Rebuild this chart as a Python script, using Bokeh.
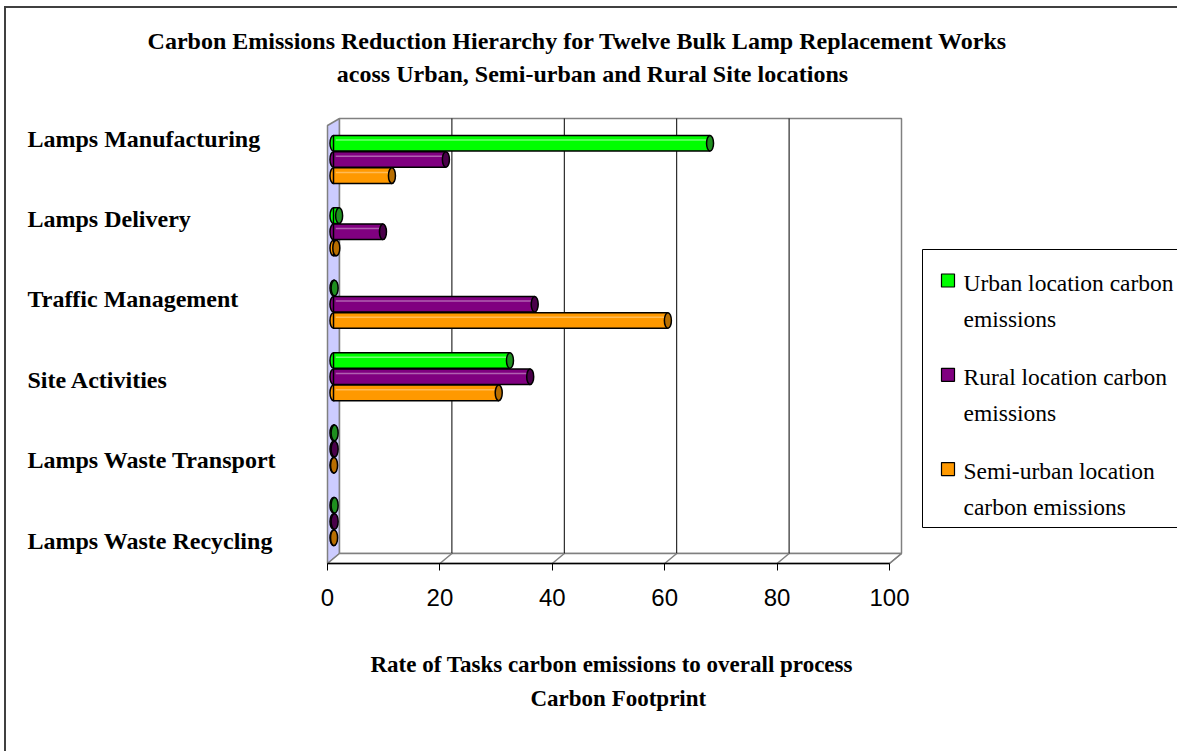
from bokeh.plotting import figure
from bokeh.models import Range1d, Label, ColumnDataSource, FixedTicker, Title
from bokeh.transform import dodge
from bokeh.embed import file_html
from bokeh.resources import INLINE

# ---------------- data ----------------
categories = ["Lamps Manufacturing", "Lamps Delivery", "Traffic Management",
              "Site Activities", "Lamps Waste Transport", "Lamps Waste Recycling"]
series_keys = ["Urban", "Rural", "Semi-urban"]
legend_lines = [["Urban location carbon", "emissions"],
                ["Rural location carbon", "emissions"],
                ["Semi-urban location", "carbon emissions"]]
urban = [67.0, 1.0, 0.2, 31.4, 0.2, 0.2]
rural = [20.0, 8.8, 35.8, 35.0, 0.2, 0.2]
semi_urban = [10.4, 0.5, 59.5, 29.4, 0.1, 0.1]
x_ticks = [0, 20, 40, 60, 80, 100]
title_lines = ["Carbon Emissions Reduction Hierarchy for Twelve  Bulk Lamp Replacement Works",
               "acoss Urban, Semi-urban and Rural Site locations"]
axis_title_lines = ["Rate of Tasks carbon emissions to overall process",
                    "Carbon Footprint"]

# ---------------- styles / layout ----------------
colors = ["#00ff00", "#800080", "#ff9900"]
highlights = ["#70ff70", "#b060b0", "#ffbb55"]
caps = ["#1f8f1f", "#4a004a", "#b86e00"]
SERIF = "Liberation Serif"
SANS = "Liberation Sans"

OX, OY = 6, 8                            # canvas origin on the page (margin + border)
W, H = 1173, 745
FB = 566                                 # frame bottom (page px)
FBc = FB - OY                            # frame bottom (canvas px)
X0 = 327                                 # page pixel of x = 0
PXU = 5.62                               # px per x data unit
DX_PX, DY_PX = 12, 10                    # 3-D depth offset
dxu = DX_PX / PXU

back_top = 118
back_floor = 553
front_floor = back_floor + DY_PX

# bar slots: 1 unit per bar, groups separated by a gap
n_series = len(series_keys)
GAP = 1.47
PITCH = n_series + GAP
n_groups = len(categories)
SLOT_PX = 16.2
y_lo = -45 / SLOT_PX
y_hi = y_lo + FBc / SLOT_PX


def slot(i, j):
    return (n_groups - 1 - i) * PITCH + (n_series - 1) / 2 - j


p = figure(width=W, height=H,
           x_range=Range1d(-(X0 - OX) / PXU, (W - (X0 - OX)) / PXU),
           y_range=Range1d(y_lo, y_hi),
           output_backend="svg", toolbar_location=None, y_axis_location=None,
           min_border_left=0, min_border_right=0, min_border_top=0,
           min_border_bottom=H - FBc,
           outline_line_color=None, background_fill_color="white",
           border_fill_color="white")
p.styles = {"margin-left": "4px", "margin-top": "6px",
            "border-left": "2px solid #404040", "border-top": "2px solid #404040"}
# page-pixel helper ranges (for decorations and free text)
p.extra_x_ranges = {"px": Range1d(OX, OX + W)}
p.extra_y_ranges = {"py": Range1d(FB, OY)}
p.grid.visible = False

# ---------------- 3-D walls ----------------
p.patch(x=[0, dxu, dxu, 0],
        y=[front_floor, back_floor, back_top, back_top + 7],
        y_range_name="py", fill_color="#ccccff", line_color="#808080", line_width=1.5)
p.quad(left=[dxu], right=[100 + dxu], top=[back_top], bottom=[back_floor],
       y_range_name="py", fill_color="white", line_color="#808080", line_width=1.5)
p.patch(x=[0, 100, 100 + dxu, dxu],
        y=[front_floor, front_floor, back_floor, back_floor],
        y_range_name="py", fill_color="white", line_color="#808080", line_width=1.5)
inner = x_ticks[1:-1]
p.segment(x0=[t + dxu for t in inner], x1=[t + dxu for t in inner],
          y0=[back_floor] * len(inner), y1=[back_top] * len(inner),
          y_range_name="py", line_color="black", line_width=1)
p.segment(x0=x_ticks[1:], x1=[t + dxu for t in x_ticks[1:]],
          y0=[front_floor] * 5, y1=[back_floor] * 5,
          y_range_name="py", line_color="#808080", line_width=1.5)
p.segment(x0=[0], x1=[100], y0=[front_floor], y1=[front_floor],
          y_range_name="py", line_color="black", line_width=1.5)

# ---------------- cylinders ----------------
for j, (key, vals) in enumerate(zip(series_keys, [urban, rural, semi_urban])):
    src = ColumnDataSource(dict(y=[slot(i, j) for i in range(n_groups)], v=vals))
    p.ellipse(x=dxu / 2, y="y", width=7, width_units="screen", height=0.96,
              fill_color=colors[j], line_color="black", line_width=1.5, source=src)
    p.hbar(y="y", left=dxu / 2, right=dodge("v", dxu / 2), height=0.96,
           fill_color=colors[j], line_color="black", line_width=1.5, source=src)
    p.segment(x0=dxu / 2 + 0.4, x1=dodge("v", dxu / 2),
              y0=dodge("y", 0.2), y1=dodge("y", 0.2),
              line_color=highlights[j], line_width=1.5, source=src)
    p.ellipse(x=dodge("v", dxu / 2), y="y", width=7, width_units="screen", height=0.96,
              fill_color=caps[j], line_color="black", line_width=1.5, source=src)

# ---------------- axis ----------------
ax = p.xaxis[0]
ax.ticker = FixedTicker(ticks=x_ticks)
ax.axis_line_color = None
ax.major_tick_in = 3
ax.major_tick_out = 4
ax.major_tick_line_color = "black"
ax.minor_tick_line_color = None
ax.major_label_text_font = SANS
ax.major_label_text_font_size = "24px"
ax.major_label_text_color = "black"
ax.major_label_standoff = 18
# blank spacer label: pushes the two axis-title lines further below the tick labels
ax.axis_label = "\u00a0"
ax.axis_label_text_font_size = "12px"
ax.axis_label_standoff = 20

for txt, off, so in zip(axis_title_lines, [370, 530], [8, 6]):
    p.add_layout(Title(text=txt, align="left", offset=off - OX, text_font=SERIF,
                       text_font_size="23px", text_font_style="bold",
                       text_color="black", standoff=so), "below")

# ---------------- texts ----------------
for i, cat in enumerate(categories):
    p.add_layout(Label(x=27, y=138 + i * 80.4, x_range_name="px", y_range_name="py",
                       text=cat, text_font=SERIF, text_font_size="24px",
                       text_font_style="bold", text_color="black",
                       text_baseline="middle", text_align="left"))
for txt, (xx, yy) in zip(title_lines, [(580, 40), (592, 73)]):
    p.add_layout(Label(x=xx, y=yy, x_range_name="px", y_range_name="py", text=txt,
                       text_font=SERIF, text_font_size="24px", text_font_style="bold",
                       text_color="black", text_baseline="middle", text_align="center"))

# ---------------- legend (drawn box, swatches, two-line labels) ----------------
LG_L, LG_T, LG_B = 922, 249, 527
ITEM_PITCH, LINE_GAP = 94.3, 36
p.quad(left=[LG_L], right=[OX + W + 10], top=[LG_T], bottom=[LG_B],
       x_range_name="px", y_range_name="py",
       fill_color="white", line_color="black", line_width=1)
p.scatter(x=[947.5] * 3, y=[280 + k * ITEM_PITCH for k in range(3)], marker="square",
          size=13, fill_color=colors, line_color="black", line_width=1.2,
          x_range_name="px", y_range_name="py")
for k, lines in enumerate(legend_lines):
    for m, txt in enumerate(lines):
        p.add_layout(Label(x=963, y=282 + k * ITEM_PITCH + m * LINE_GAP,
                           x_range_name="px", y_range_name="py", text=txt,
                           text_font=SERIF, text_font_size="23.5px", text_color="black",
                           text_baseline="middle", text_align="left"))

open("out.html", "w").write(file_html(p, INLINE))
